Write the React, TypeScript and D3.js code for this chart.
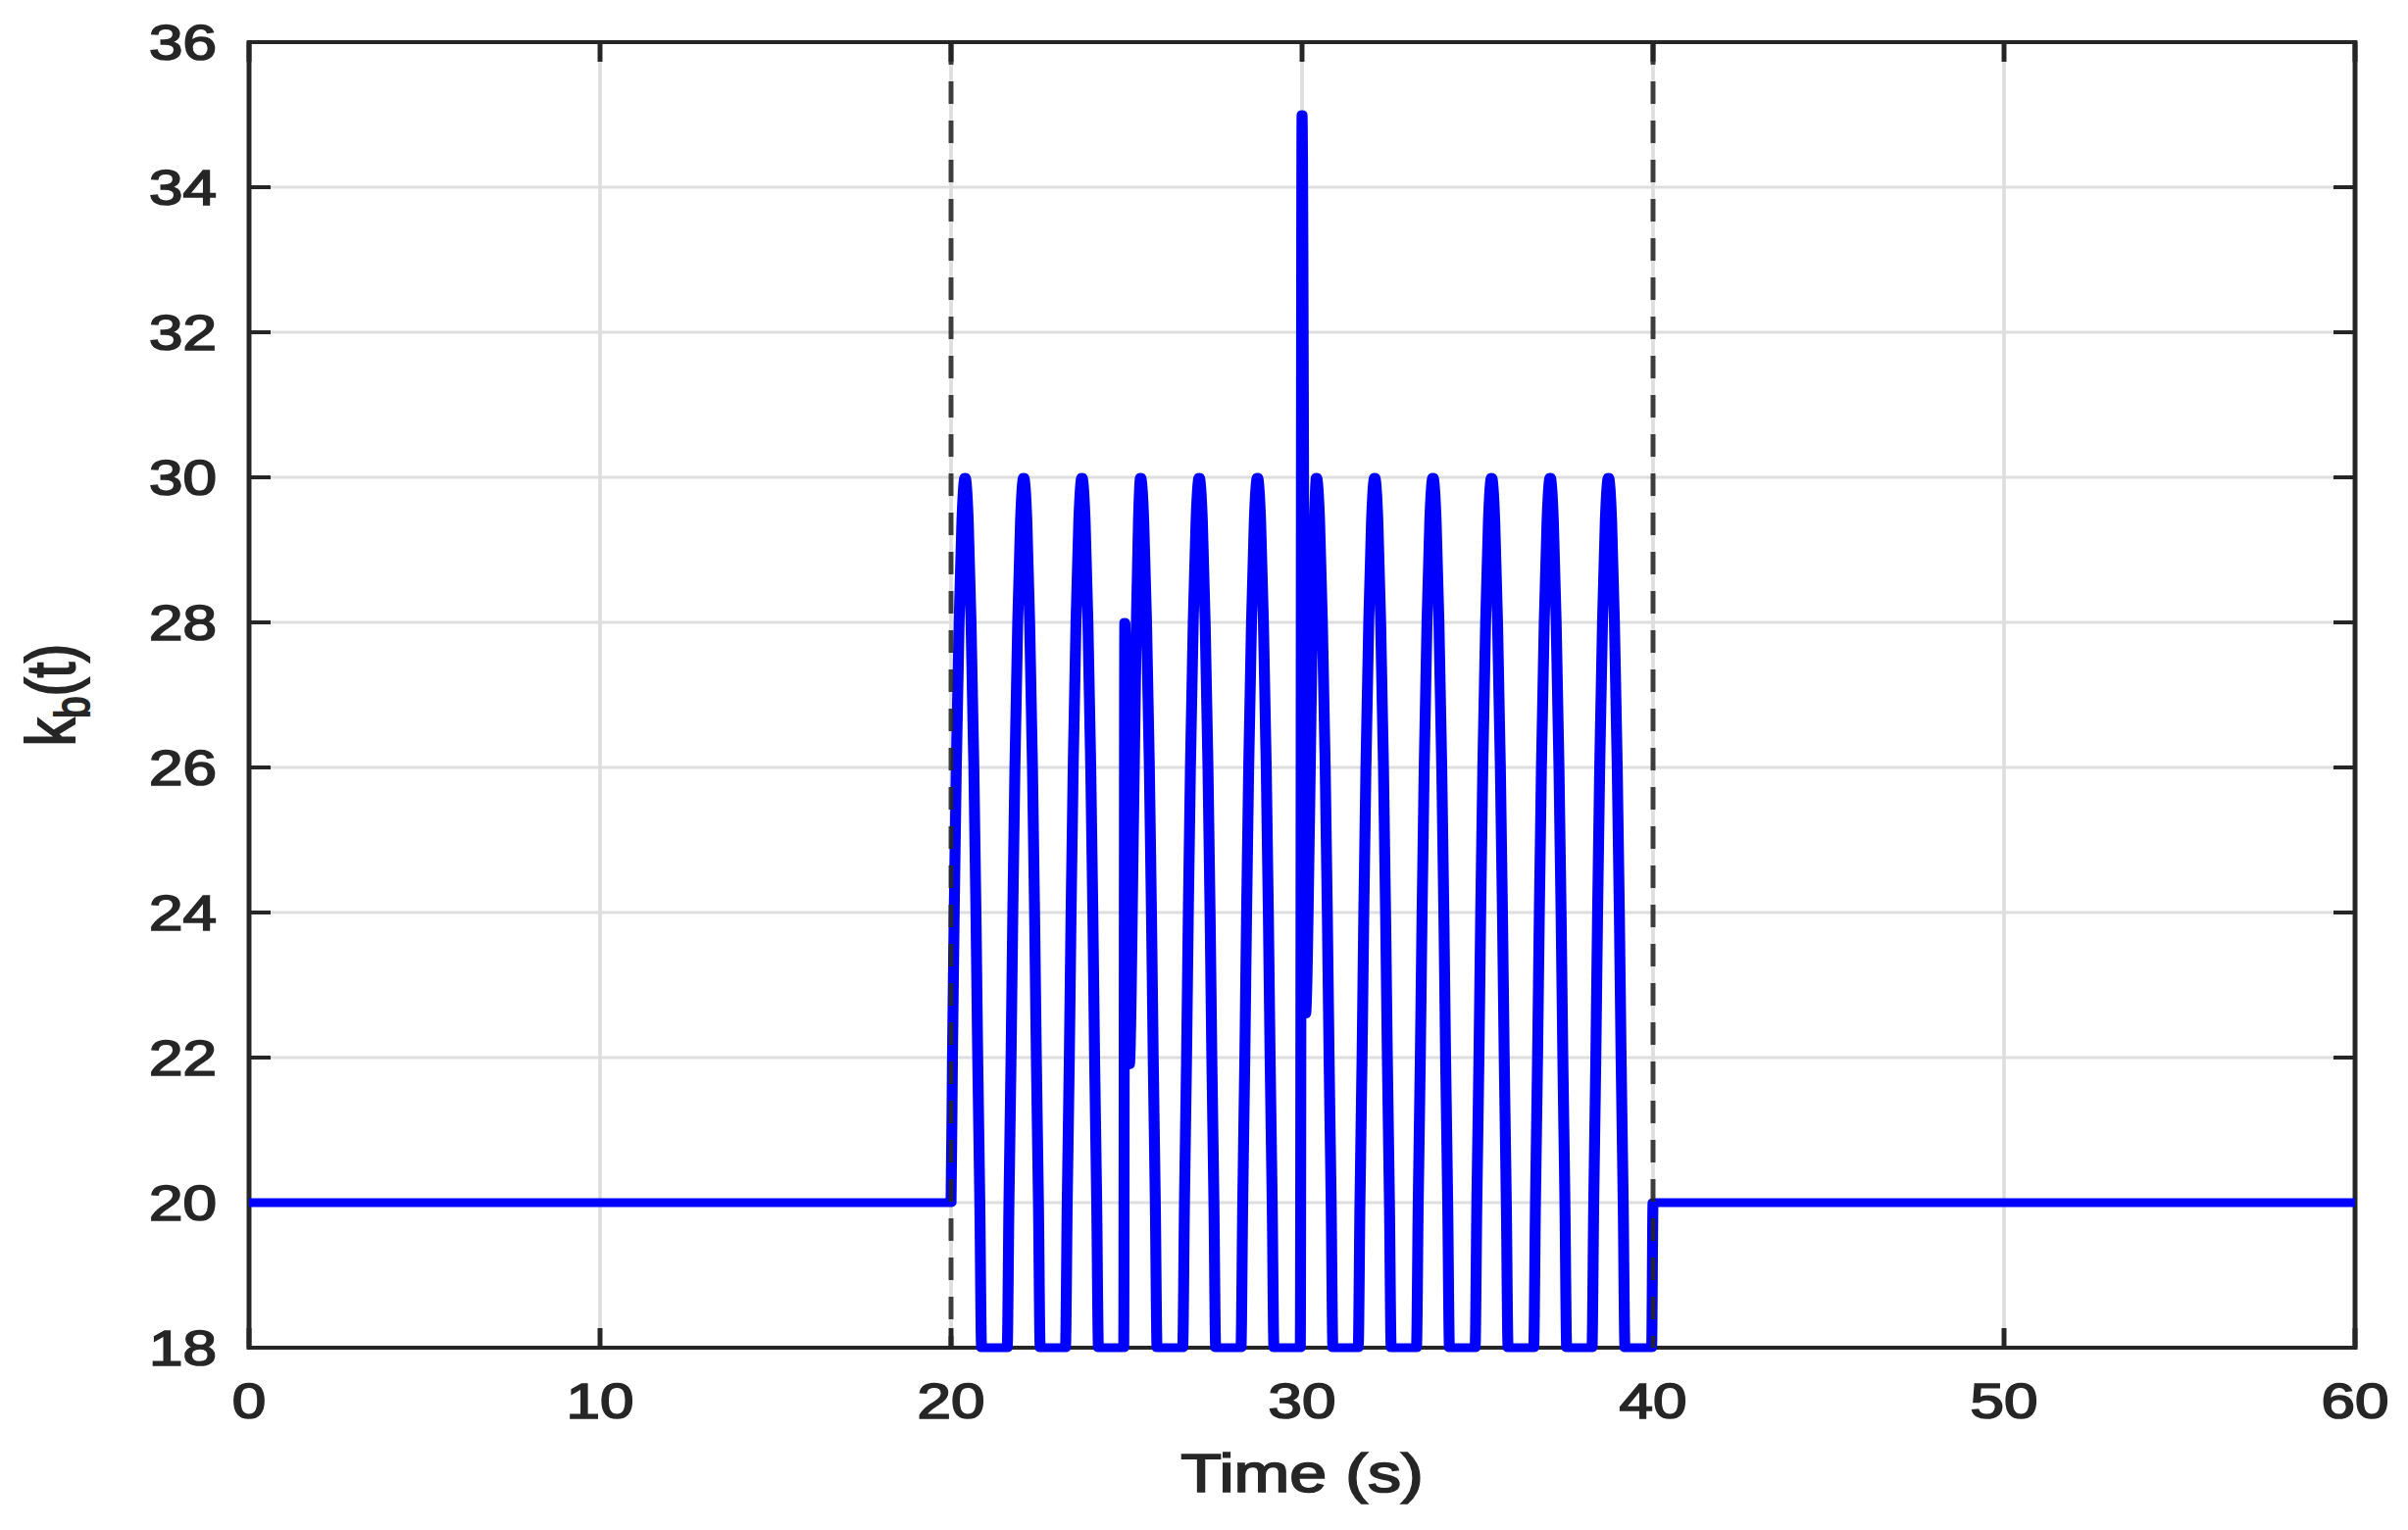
import React from "react";
import * as d3 from "d3";

// ---- data ----
const xTicks = [0, 10, 20, 30, 40, 50, 60];
const yTicks = [18, 20, 22, 24, 26, 28, 30, 32, 34, 36];
const switchTimes = [20, 40];

const time = [
  0, 20.0, 20.04, 20.09, 20.15, 20.23, 20.31, 20.4, 20.49, 20.57, 20.65, 20.71, 20.76, 20.82, 20.87,
  21.6, 21.65, 21.71, 21.76, 21.82, 21.9, 21.98, 22.07, 22.16, 22.24, 22.32, 22.38, 22.43, 22.49, 22.54,
  23.26, 23.31, 23.37, 23.42, 23.48, 23.56, 23.64, 23.73, 23.82, 23.9, 23.98, 24.04, 24.09, 24.15, 24.2,
  24.92, 24.95, 25.08, 25.2, 25.28, 25.34, 25.4, 25.49, 25.57, 25.65, 25.71, 25.76, 25.82, 25.87,
  26.6, 26.65, 26.71, 26.76, 26.82, 26.9, 26.98, 27.07, 27.16, 27.24, 27.32, 27.38, 27.43, 27.49, 27.54,
  28.26, 28.31, 28.37, 28.42, 28.48, 28.56, 28.64, 28.73, 28.82, 28.9, 28.98, 29.04, 29.09, 29.15, 29.2,
  29.95, 30.0, 30.1, 30.22, 30.3, 30.36, 30.41, 30.5, 30.58, 30.66, 30.72, 30.77, 30.83, 30.88,
  31.6, 31.65, 31.71, 31.76, 31.82, 31.9, 31.98, 32.07, 32.16, 32.24, 32.32, 32.38, 32.43, 32.49, 32.54,
  33.26, 33.31, 33.37, 33.42, 33.48, 33.56, 33.64, 33.73, 33.82, 33.9, 33.98, 34.04, 34.09, 34.15, 34.2,
  34.93, 34.98, 35.04, 35.09, 35.15, 35.23, 35.31, 35.4, 35.49, 35.57, 35.65, 35.71, 35.76, 35.82, 35.87,
  36.6, 36.65, 36.71, 36.76, 36.82, 36.9, 36.98, 37.07, 37.16, 37.24, 37.32, 37.38, 37.43, 37.49, 37.54,
  38.26, 38.31, 38.37, 38.42, 38.48, 38.56, 38.64, 38.73, 38.82, 38.9, 38.98, 39.04, 39.09, 39.15, 39.2,
  39.96, 40.0, 60,
];

const kb = [
  20, 20, 22, 24, 26, 28, 29.4, 30, 29.4, 28, 26, 24, 22, 20, 18,
  18, 20, 22, 24, 26, 28, 29.4, 30, 29.4, 28, 26, 24, 22, 20, 18,
  18, 20, 22, 24, 26, 28, 29.4, 30, 29.4, 28, 26, 24, 22, 20, 18,
  18, 28, 21.9, 25.3, 28, 29.4, 30, 29.4, 28, 26, 24, 22, 20, 18,
  18, 20, 22, 24, 26, 28, 29.4, 30, 29.4, 28, 26, 24, 22, 20, 18,
  18, 20, 22, 24, 26, 28, 29.4, 30, 29.4, 28, 26, 24, 22, 20, 18,
  18, 35, 22.6, 25.5, 28.2, 29.5, 30, 29.4, 28, 26, 24, 22, 20, 18,
  18, 20, 22, 24, 26, 28, 29.4, 30, 29.4, 28, 26, 24, 22, 20, 18,
  18, 20, 22, 24, 26, 28, 29.4, 30, 29.4, 28, 26, 24, 22, 20, 18,
  18, 20, 22, 24, 26, 28, 29.4, 30, 29.4, 28, 26, 24, 22, 20, 18,
  18, 20, 22, 24, 26, 28, 29.4, 30, 29.4, 28, 26, 24, 22, 20, 18,
  18, 20, 22, 24, 26, 28, 29.4, 30, 29.4, 28, 26, 24, 22, 20, 18,
  18, 20, 20,
];

// ---- layout ----
const W = 2456;
const H = 1561;
const SX = 1.24; // the reference figure is stretched horizontally
const left = 254 / SX;
const right = 2402 / SX;
const top = 43;
const bottom = 1375;
const axisColor = "#262626";
const font = "'Liberation Sans', Arial, Helvetica, sans-serif";
const textStroke = 1.7;

export default function App() {
  const x = d3.scaleLinear().domain([0, 60]).range([left, right]);
  const y = d3.scaleLinear().domain([18, 36]).range([bottom, top]);
  const pts: [number, number][] = time.map((t, i) => [t, kb[i]]);
  const line = d3
    .line<[number, number]>()
    .x((d) => x(d[0]))
    .y((d) => y(d[1]))
    .curve(d3.curveMonotoneX);
  const tickLenX = 22 / SX;
  const tickLenY = 20;

  return (
    <svg
      width={W}
      height={H}
      viewBox={`0 0 ${W} ${H}`}
      style={{ position: "absolute", left: 0, top: 0, background: "#fff" }}
    >
      <rect x={0} y={0} width={W} height={H} fill="#fff" />
      <g transform={`scale(${SX},1)`}>
        {/* grid */}
        <g stroke="#dedede" strokeWidth={3}>
          {xTicks.map((t) => (
            <line key={"gx" + t} x1={x(t)} x2={x(t)} y1={top} y2={bottom} />
          ))}
          {yTicks.map((t) => (
            <line key={"gy" + t} x1={left} x2={right} y1={y(t)} y2={y(t)} />
          ))}
        </g>
        {/* box */}
        <rect
          x={left}
          y={top}
          width={right - left}
          height={bottom - top}
          fill="none"
          stroke={axisColor}
          strokeWidth={4}
        />
        {/* ticks */}
        <g stroke={axisColor} strokeWidth={4}>
          {xTicks.map((t) => (
            <g key={"tx" + t}>
              <line x1={x(t)} x2={x(t)} y1={bottom} y2={bottom - tickLenY} />
              <line x1={x(t)} x2={x(t)} y1={top} y2={top + tickLenY} />
            </g>
          ))}
          {yTicks.map((t) => (
            <g key={"ty" + t}>
              <line x1={left} x2={left + tickLenX} y1={y(t)} y2={y(t)} />
              <line x1={right} x2={right - tickLenX} y1={y(t)} y2={y(t)} />
            </g>
          ))}
        </g>
        {/* data */}
        <path
          d={line(pts) || ""}
          fill="none"
          stroke="#0000ff"
          strokeWidth={9}
          strokeLinejoin="round"
          strokeLinecap="butt"
        />
        {/* switching instants */}
        {switchTimes.map((t) => (
          <line
            key={"sw" + t}
            x1={x(t)}
            x2={x(t)}
            y1={top}
            y2={bottom}
            stroke={axisColor}
            strokeOpacity={0.88}
            strokeWidth={4}
            strokeDasharray="23 17"
          />
        ))}
        {/* tick labels */}
        <g
          fill={axisColor}
          stroke={axisColor}
          strokeWidth={textStroke}
          fontFamily={font}
          fontSize={50}
        >
          {xTicks.map((t) => (
            <text key={"lx" + t} x={x(t)} y={1447} textAnchor="middle">
              {t}
            </text>
          ))}
          {yTicks.map((t) => (
            <text key={"ly" + t} x={221 / SX} y={y(t) + 18} textAnchor="end">
              {t}
            </text>
          ))}
        </g>
        {/* axis labels */}
        <text
          x={(left + right) / 2}
          y={1522}
          textAnchor="middle"
          fill={axisColor}
          stroke={axisColor}
          strokeWidth={textStroke}
          fontFamily={font}
          fontSize={55}
        >
          Time (s)
        </text>
        <text
          transform={`translate(${76 / SX}, ${(top + bottom) / 2}) rotate(-90)`}
          textAnchor="middle"
          fill={axisColor}
          stroke={axisColor}
          strokeWidth={textStroke}
          fontFamily={font}
          fontSize={57}
        >
          k
          <tspan fontSize={40} dy={12}>
            b
          </tspan>
          <tspan dy={-12}>(t)</tspan>
        </text>
      </g>
    </svg>
  );
}
